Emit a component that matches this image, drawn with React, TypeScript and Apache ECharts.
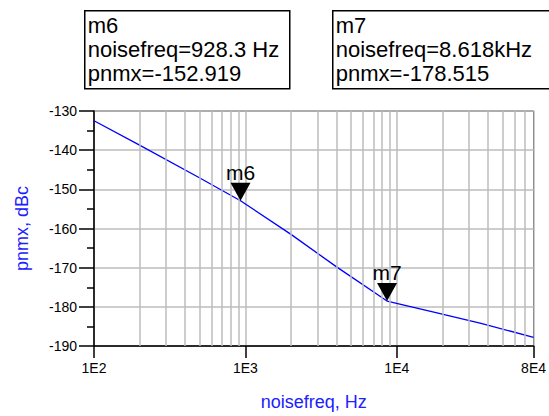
import React, { useEffect, useRef } from "react";
import * as echarts from "echarts";

const freqs = [100, 200, 500, 928.3, 2000, 4000, 8618, 17000, 36000, 80000];
const pnmx = [-132.5, -138.7, -147.1, -152.919, -161.5, -169.8, -178.515, -181.2, -184.2, -187.8];
const markerNames = ["m6", "m7"];
const markerFreqs = [928.3, 8618];
const markerValues = [-152.919, -178.515];
const markerFreqText = ["928.3 Hz", "8.618kHz"];
const minorGrid = [200, 300, 400, 500, 600, 700, 800, 900, 2000, 3000, 4000, 5000, 6000, 7000, 8000, 9000, 20000, 30000, 40000, 50000, 60000, 70000];

const FONT = "Liberation Sans, Arial, sans-serif";

export default function App() {
  const ref = useRef<HTMLDivElement>(null);
  useEffect(() => {
    if (!ref.current) return;
    const chart = echarts.init(ref.current, undefined, { renderer: "svg" });
    const grid = "#bdbdbd";
    const fmtX = (v: number) => {
      const e = Math.floor(Math.log10(v) + 1e-9);
      const m = Math.round(v / Math.pow(10, e));
      return `${m}E${e}`;
    };
    chart.setOption({
      animation: false,
      backgroundColor: "#fff",
      grid: { left: 94, right: 13, top: 111, bottom: 70, show: true, borderColor: "#000", borderWidth: 1 },
      xAxis: {
        type: "log",
        logBase: 10,
        min: 100,
        max: 80000,
        name: "noisefreq, Hz",
        nameLocation: "middle",
        nameGap: 47,
        nameTextStyle: { color: "#2020ff", fontSize: 18, fontFamily: FONT },
        axisLine: { show: true, lineStyle: { color: "#000", width: 1.5 } },
        axisTick: { show: true, length: 12, inside: false, lineStyle: { color: "#000", width: 1.5 } },
        axisLabel: { formatter: fmtX, color: "#000", fontSize: 14, fontFamily: FONT, margin: 15 },
        splitLine: { show: true, lineStyle: { color: grid, width: 1.5 } },
        minorTick: { show: false },
      },
      yAxis: {
        type: "value",
        min: -190,
        max: -130,
        interval: 10,
        name: "pnmx, dBc",
        nameLocation: "middle",
        nameGap: 63,
        nameRotate: 90,
        nameTextStyle: { color: "#2020ff", fontSize: 18, fontFamily: FONT },
        axisLine: { show: true, lineStyle: { color: "#000", width: 1.5 } },
        axisTick: { show: true, length: 15, inside: false, lineStyle: { color: "#000", width: 1.5 } },
        minorTick: { show: true, splitNumber: 2, length: 7, lineStyle: { color: "#000", width: 1.5 } },
        axisLabel: { color: "#000", fontSize: 14, fontFamily: FONT, margin: 17 },
        splitLine: { show: true, lineStyle: { color: grid, width: 1.5 } },
      },
      series: [
        {
          type: "line",
          data: [],
          silent: true,
          z: 1,
          markLine: {
            silent: true,
            symbol: "none",
            label: { show: false },
            lineStyle: { color: grid, width: 1.5, type: "solid" },
            data: minorGrid.map((v) => ({ xAxis: v })),
          },
        },
        {
          type: "line",
          z: 3,
          data: freqs.map((f, i) => [f, pnmx[i]]),
          showSymbol: false,
          symbol: "none",
          lineStyle: { color: "#0000ff", width: 1.3 },
          markPoint: {
            symbol: "path://M0 0L20 0L10 18Z",
            symbolSize: [20, 18],
            symbolOffset: [0, -9],
            itemStyle: { color: "#000" },
            label: {
              show: true,
              position: "top",
              distance: 0,
              formatter: "{b}",
              color: "#000",
              fontSize: 21,
              fontFamily: FONT,
            },
            data: markerNames.map((n, i) => ({ name: n, coord: [markerFreqs[i], markerValues[i]] })),
          },
        },
      ],
      graphic: [
        ...markerNames.map((n, i) => ({
          type: "group",
          left: i === 0 ? 84 : 332,
          top: 10,
          children: [
            {
              type: "rect",
              shape: { x: 0, y: 0, width: i === 0 ? 205 : 240, height: 78 },
              style: { fill: "#fff", stroke: "#000", lineWidth: 1.5 },
            },
            {
              type: "text",
              x: 3,
              y: 3,
              style: {
                text: `${n}\nnoisefreq=${markerFreqText[i]}\npnmx=${markerValues[i].toFixed(3)}`,
                font: `22px ${FONT}`,
                lineHeight: 24,
                fill: "#000",
              },
            },
          ],
        })),
      ],
    });
    return () => chart.dispose();
  }, []);
  return <div ref={ref} style={{ width: 549, height: 416, position: "absolute", left: 0, top: 0 }} />;
}
